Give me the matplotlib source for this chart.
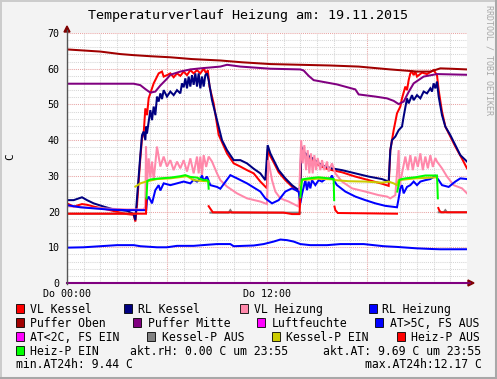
import matplotlib
matplotlib.use('Agg')
import matplotlib.pyplot as plt
from matplotlib.patches import Rectangle, Polygon
from matplotlib.lines import Line2D

nan = float('nan')

# ---------------- data (hours of the day, degrees C) ----------------
t_vl_kessel = [0, 0.4, 0.9, 1.2, 1.6, 2.4, 3.2, 3.6, 4.0, 4.1, 4.2, 4.3, 4.4, 4.5, 4.6, 4.7, 4.8, 4.9, 5.2, 5.5,
               5.7, 5.8, 6.0, 6.2, 6.4, 6.6, 6.8, 7.0, 7.2, 7.4, 7.6, 7.8, 8.0, 8.2, 8.35, 8.45, 8.55, 8.8, 9.1, 9.6,
               10.0, 10.4, 10.8, 11.2, 11.6, 12.0, 12.05, 12.2, 12.4, 12.7, 13.1, 13.5, 13.9, 14.0, 14.05, 14.2, 14.4,
               14.7, 15.1, 15.5, 15.9, 16.5, 17.3, 18.1, 18.9, 19.3, 19.4, 19.6, 19.8, 20.0, 20.1, 20.3, 20.4, 20.5,
               20.6, 20.7, 20.8, 20.9, 21.0, 21.3, 21.6, 22.0, 22.1, 22.2, 22.3, 22.5, 22.7, 23.0, 23.3, 23.7, 24.0]
vl_kessel = [22.3, 21.4, 22.1, 21.9, 21.4, 20.6, 19.7, 19.3, 19.1, 17.2, 21.8, 28.4, 34.9, 40.5, 41.9, 48.9, 47.0, 51.7,
             55.9, 58.7, 59.2, 57.8, 58.2, 58.7, 57.6, 58.7, 58.0, 59.2, 58.2, 59.6, 58.7, 59.6, 58.7, 60.0, 58.7, 59.6,
             55.0, 50.3, 41.5, 36.3, 33.5, 32.6, 31.6, 30.7, 28.4, 26.5, 37.5, 35.5, 33.8, 31.0, 28.8, 27.0, 25.5, 25.0,
             37.5, 36.3, 35.3, 34.5, 33.0, 32.1, 31.6, 31.0, 29.8, 28.8, 27.8, 27.2, 37.2, 42.8, 47.5, 49.4, 51.7, 55.0,
             54.0, 56.8, 58.7, 59.2, 58.2, 59.2, 57.8, 58.9, 58.5, 59.6, 58.9, 58.2, 54.0, 48.0, 43.8, 41.0, 38.2, 34.8,
             32.1]

t_rl_kessel = [0, 0.4, 0.9, 1.2, 1.6, 2.2, 2.8, 3.6, 4.0, 4.1, 4.2, 4.4, 4.5, 4.6, 4.7, 4.75, 4.8, 5.0, 5.1, 5.2, 5.3,
               5.4, 5.5, 5.6, 5.7, 5.8, 6.0, 6.2, 6.4, 6.6, 6.8, 6.9, 7.0, 7.1, 7.2, 7.3, 7.4, 7.5, 7.6, 7.7, 7.8, 7.9,
               8.0, 8.1, 8.2, 8.3, 8.4, 8.5, 8.7, 9.0, 9.3, 9.6, 10.0, 10.4, 10.8, 11.2, 11.6, 11.9, 12.04, 12.2, 12.4,
               12.7, 13.1, 13.5, 13.9, 14.0, 14.05, 14.2, 14.4, 14.7, 15.1, 15.5, 15.9, 16.5, 17.3, 18.1, 18.9, 19.3,
               19.4, 19.5, 19.7, 19.9, 20.1, 20.2, 20.4, 20.5, 20.7, 20.8, 21.0, 21.2, 21.4, 21.6, 21.8, 21.9, 22.0,
               22.1, 22.2, 22.3, 22.5, 22.7, 23.0, 23.3, 23.6, 24.0]
rl_kessel = [23.2, 23.2, 24.0, 23.2, 22.3, 21.4, 20.6, 20.2, 19.3, 17.6, 23.7, 35.8, 41.4, 42.4, 40.0, 43.8, 41.9, 48.4,
             45.6, 49.4, 47.0, 52.2, 50.8, 53.1, 51.5, 54.0, 52.2, 53.6, 52.6, 54.0, 53.1, 55.9, 54.8, 57.3, 54.5, 57.8,
             55.0, 58.2, 55.5, 58.7, 55.0, 58.7, 54.5, 57.8, 55.0, 58.2, 58.7, 56.8, 51.2, 45.6, 40.0, 37.2, 34.4, 34.4,
             33.5, 32.0, 30.7, 28.8, 38.6, 36.3, 34.4, 31.6, 29.3, 27.4, 26.0, 27.0, 38.2, 36.8, 35.8, 35.0, 33.5, 32.6,
             32.1, 31.6, 30.7, 29.8, 29.1, 28.4, 37.2, 40.0, 41.0, 42.8, 43.8, 46.6, 51.7, 50.3, 52.6, 51.2, 52.6, 51.7,
             53.6, 53.1, 54.5, 53.6, 55.9, 54.5, 56.4, 52.2, 47.0, 43.8, 41.4, 38.6, 35.8, 34.0]

t_vl_heizung = [0, 1.6, 3.6, 4.6, 4.7, 4.74, 4.8, 4.9, 5.0, 5.1, 5.2, 5.4, 5.6, 5.8, 6.0, 6.2, 6.4, 6.6, 6.8, 7.0, 7.2,
                7.4, 7.6, 7.8, 7.9, 8.0, 8.1, 8.2, 8.35, 8.5, 8.7, 9.0, 9.2, 9.6, 10.2, 10.8, 11.6, 12.0, 12.08, 12.3,
                12.5, 12.8, 13.3, 13.9, 14.05, 14.14, 14.24, 14.34, 14.44, 14.54, 14.64, 14.74, 14.84, 14.94, 15.04,
                15.2, 15.3, 15.44, 15.6, 15.7, 15.9, 16.1, 16.5, 17.1, 17.9, 18.7, 19.2, 19.4, 19.7, 19.9, 19.95, 20.1,
                20.3, 20.45, 20.6, 20.75, 20.9, 21.05, 21.2, 21.35, 21.5, 21.65, 21.8, 21.95, 22.1, 22.2, 22.5, 22.8,
                23.2, 23.7, 24.0]
vl_heizung = [21.5, 21.0, 20.6, 20.6, 21.4, 38.2, 27.5, 34.9, 29.5, 34.0, 28.8, 38.2, 32.6, 35.4, 32.6, 34.4, 31.6, 34.0,
              32.1, 34.4, 31.2, 34.9, 30.7, 35.4, 30.7, 35.4, 30.2, 35.8, 32.5, 35.4, 34.0, 30.7, 28.8, 27.0, 25.1, 23.7,
              22.8, 22.1, 34.4, 28.8, 25.6, 23.7, 22.8, 21.4, 40.0, 33.5, 38.6, 31.6, 37.2, 30.7, 36.3, 30.7, 35.8, 31.6,
              35.0, 31.6, 34.4, 31.6, 34.0, 31.2, 33.5, 30.7, 28.4, 26.5, 25.6, 24.6, 24.2, 23.7, 24.6, 37.2, 26.9, 30.7,
              35.4, 31.6, 35.8, 31.6, 35.4, 32.5, 36.3, 31.6, 35.4, 32.1, 35.8, 32.5, 35.0, 34.0, 32.1, 29.8, 27.4, 26.5,
              25.1]

t_rl_heizung = [0, 0.8, 1.6, 2.4, 3.6, 4.75, 4.8, 4.9, 5.1, 5.3, 5.5, 5.6, 5.8, 6.2, 6.6, 7.0, 7.4, 7.6, 7.8, 8.0, 8.1,
                8.2, 8.4, 8.6, 9.0, 9.2, 9.8, 10.2, 10.8, 11.6, 11.9, 12.3, 12.7, 13.1, 13.5, 13.9, 14.0, 14.1, 14.3,
                14.4, 14.5, 14.6, 14.7, 14.9, 15.1, 15.3, 15.5, 15.8, 15.9, 16.0, 16.2, 16.7, 17.3, 17.9, 18.5, 19.1,
                19.8, 19.9, 20.0, 20.1, 20.2, 20.4, 20.6, 20.8, 21.0, 21.2, 21.5, 21.8, 22.1, 22.3, 22.5, 22.9, 23.3,
                23.6, 24.0]
rl_heizung = [21.8, 21.2, 20.9, 20.6, 20.4, 20.4, 23.2, 24.2, 22.3, 26.0, 27.4, 25.9, 27.9, 27.4, 27.9, 28.4, 27.9, 28.9,
              28.4, 29.1, 30.1, 28.6, 29.8, 27.4, 26.9, 26.4, 30.2, 29.3, 27.9, 25.6, 23.7, 22.3, 23.2, 25.6, 26.5, 25.6,
              22.3, 24.9, 28.8, 26.0, 28.4, 26.5, 28.8, 27.4, 28.8, 28.4, 29.1, 29.3, 30.1, 28.8, 27.4, 25.6, 24.2, 23.2,
              22.3, 21.6, 21.2, 23.7, 26.5, 27.4, 25.1, 26.9, 27.4, 28.4, 27.4, 28.4, 28.8, 29.1, 30.0, 28.8, 27.4, 26.9,
              28.4, 29.3, 29.1]

t_puffer_oben = [0, 1, 2, 3.2, 4, 5, 6.2, 7.5, 9.2, 10.5, 12.2, 14, 15.8, 17.5, 19.4, 20.5, 21, 21.8, 22.4, 23, 24]
puffer_oben = [65.4, 65.1, 64.8, 64.1, 63.8, 63.5, 63.2, 62.7, 62.3, 61.8, 61.3, 61.1, 60.9, 60.6, 59.8, 59.4, 59.2,
               59.2, 60.1, 60.0, 59.8]

t_puffer_mitte = [0, 4, 4.4, 4.7, 5.0, 5.3, 5.6, 6.0, 6.2, 6.8, 7.4, 8.0, 9.2, 9.6, 10.4, 11.3, 12.2, 14.0, 14.2, 14.5,
                  14.8, 16.2, 17.3, 17.5, 18.5, 19.2, 19.6, 19.9, 20.2, 20.5, 20.8, 21.4, 22.2, 24]
puffer_mitte = [55.8, 55.8, 55.4, 54.3, 53.3, 53.6, 55.3, 57.2, 58.3, 59.2, 59.8, 60.1, 60.6, 61.1, 60.6, 60.3, 60.0,
                59.8, 59.5, 58.0, 56.8, 55.6, 54.2, 52.8, 52.2, 51.7, 51.0, 50.1, 50.8, 53.5, 55.9, 57.8, 58.5, 58.3]

t_luftfeuchte = [0, 24]
luftfeuchte = [0.0, 0.0]

t_aussen = [0, 1, 2, 3, 4, 4.4, 5.4, 6.0, 6.6, 7.6, 8.4, 9.0, 9.8, 10.0, 11.2, 11.8, 12.4, 12.8, 13.2, 13.6, 14.0,
            14.6, 15.6, 16.4, 17.8, 18.4, 19.0, 19.8, 21.0, 22.0, 22.4, 24.0]
aussen = [9.9, 10.0, 10.3, 10.6, 10.6, 10.3, 10.0, 10.0, 10.4, 10.4, 10.7, 10.9, 10.9, 10.3, 10.5, 10.9, 11.6, 12.17,
          12.0, 11.6, 10.9, 10.6, 10.6, 10.9, 10.9, 10.6, 10.3, 10.1, 9.7, 9.5, 9.44, 9.45]

t_kesselp_aus = [0, 4.1, 4.11, 8.6, 9.7, 9.8, 9.9, 14.0, 14.01, 22.3, 22.6, 22.7, 22.8, 24]
kesselp_aus = [19.4, 19.4, nan, 19.7, 19.7, 20.4, 19.7, 19.7, nan, 19.8, 19.8, 20.4, 19.8, 19.8]

t_kesselp_ein = [4.1, 4.4, 4.74, 5.4, 6.2, 7.2, 7.6, 8.0, 8.4, 8.5, 8.51, 14.0, 14.1, 15.0, 16.0, 16.1, 16.9, 17.9,
                 18.9, 19.3, 19.6, 19.8, 19.9, 20.9, 22.2]
kesselp_ein = [27.0, 27.9, 28.4, 29.1, 29.3, 29.9, 28.8, 28.6, 28.5, 28.3, nan, 27.4, 28.8, 29.2, 29.0, 28.8, 28.5, 28.4,
               28.1, 28.4, 27.9, 27.4, 28.8, 29.3, 29.6]

t_heizp_aus = [0, 4.74, 4.76, 4.77, 8.5, 8.6, 8.75, 13.0, 13.5, 13.95, 14.0, 14.01, 16.05, 16.1, 16.25, 19.8, 19.81,
               22.28, 22.35, 22.45, 24]
heizp_aus = [19.4, 19.4, 23.7, nan, 21.5, 20.8, 19.8, 19.7, 19.3, 19.3, 24.0, nan, 21.4, 20.4, 19.6, 19.4, nan, 21.0,
             20.2, 19.8, 19.8]

t_heizp_ein = [4.77, 4.82, 5.0, 5.6, 6.2, 6.8, 7.1, 7.4, 7.8, 8.2, 8.4, 8.47, 8.5, 8.51, 14.0, 14.1, 14.5, 15.1, 15.7,
               16.0, 16.03, 16.04, 19.82, 19.95, 20.0, 20.3, 20.9, 21.5, 22.1, 22.2, 22.25, 22.27]
heizp_ein = [23.7, 28.6, 29.0, 29.3, 29.5, 29.9, 30.2, 29.7, 29.5, 28.8, 28.8, 28.6, 26.4, nan, 24.0, 29.0, 29.3, 29.6,
             29.3, 29.1, 23.2, nan, 25.6, 28.8, 29.0, 29.3, 29.6, 30.1, 30.1, 30.1, 23.7, nan]

x_tick_pos = [0, 12]
x_tick_labels = ['Do 00:00', 'Do 12:00']
y_ticks = [0, 10, 20, 30, 40, 50, 60, 70]

legend_labels = ['VL Kessel', 'RL Kessel', 'VL Heizung', 'RL Heizung', 'Puffer Oben', 'Puffer Mitte',
                 'Luftfeuchte', 'AT>5C, FS AUS', 'AT<2C, FS EIN', 'Kessel-P AUS', 'Kessel-P EIN',
                 'Heiz-P AUS', 'Heiz-P EIN']
legend_colors = ['#FF0000', '#000080', '#FF88AA', '#0000FF', '#A00000', '#800080', '#FF00FF', '#0000FF',
                 '#FF00FF', '#808080', '#CCCC00', '#FF0000', '#00FF00']

# ---------------- layout ----------------
W, H = 497, 379
MONO = 'DejaVu Sans Mono'
fig = plt.figure(figsize=(W / 100, H / 100), dpi=100)
fig.patch.set_facecolor('#F3F3F3')


def fx(x):
    return x / W


def fy(y):
    return 1 - y / H


# frame shading
fig.add_artist(Line2D([fx(0.5), fx(0.5)], [fy(0), fy(379)], color='#CBCBCB', lw=1.4, transform=fig.transFigure))
fig.add_artist(Line2D([fx(0), fx(497)], [fy(0.5), fy(0.5)], color='#CBCBCB', lw=1.4, transform=fig.transFigure))
fig.add_artist(Line2D([fx(495.5), fx(495.5)], [fy(0), fy(379)], color='#A8A8A8', lw=2.2, transform=fig.transFigure))
fig.add_artist(Line2D([fx(0), fx(497)], [fy(377.5), fy(377.5)], color='#A8A8A8', lw=2.2, transform=fig.transFigure))

ax = fig.add_axes([fx(67), fy(283), 400 / W, 250 / H])
ax.set_xlim(0, 24)
ax.set_ylim(0, 70)
ax.set_facecolor('white')
for s in ax.spines.values():
    s.set_visible(False)

# grid
for h in range(1, 24):
    major = (h % 6 == 0)
    ax.axvline(h, color='#E8A4A4' if major else '#D6D6D6', lw=0.75, ls=(0, (1, 1)), zorder=0.5)
for v in range(2, 71, 2):
    major = (v % 10 == 0)
    ax.axhline(v, color='#E8A4A4' if major else '#D6D6D6', lw=0.75, ls=(0, (1, 1)), zorder=0.5)

ax.set_yticks(y_ticks)
ax.set_yticklabels([str(v) for v in y_ticks], fontsize=7.2, family=MONO)
ax.set_xticks(x_tick_pos)
ax.set_xticklabels(x_tick_labels, fontsize=7.2, family=MONO)
ax.tick_params(axis='y', length=0, pad=5.2)
ax.tick_params(axis='x', length=0, pad=4.0)
for lbl in ax.get_yticklabels():
    lbl.set_verticalalignment('baseline')
    lbl.set_y(lbl.get_position()[1])
# move the "0" label a touch up so it clears the time labels (as in the reference)
for lbl, v in zip(ax.get_yticklabels(), y_ticks):
    lbl.set_verticalalignment('center_baseline')

LW = 1.45
series = [
    (t_vl_kessel, vl_kessel, legend_colors[0]),
    (t_rl_kessel, rl_kessel, legend_colors[1]),
    (t_vl_heizung, vl_heizung, legend_colors[2]),
    (t_rl_heizung, rl_heizung, legend_colors[3]),
    (t_puffer_oben, puffer_oben, legend_colors[4]),
    (t_puffer_mitte, puffer_mitte, legend_colors[5]),
    (t_aussen, aussen, legend_colors[7]),
    (t_kesselp_aus, kesselp_aus, legend_colors[9]),
    (t_kesselp_ein, kesselp_ein, legend_colors[10]),
    (t_heizp_aus, heizp_aus, legend_colors[11]),
    (t_heizp_ein, heizp_ein, legend_colors[12]),
]
for i, (t, v, c) in enumerate(series):
    ax.plot(t, v, color=c, lw=LW, zorder=2 + i * 0.1, solid_joinstyle='miter')

# humidity line (zero) on the x axis
ax.plot(t_luftfeuchte, luftfeuchte, color='#800080', lw=1.5, zorder=5, clip_on=False)

# axes lines and arrows
fig.add_artist(Line2D([fx(67), fx(67)], [fy(284), fy(30)], color='#555555', lw=1.0, transform=fig.transFigure))
fig.add_artist(Line2D([fx(466), fx(470)], [fy(283), fy(283)], color='#800080', lw=1.2, transform=fig.transFigure))
fig.add_artist(Polygon([(fx(64), fy(32)), (fx(70), fy(32)), (fx(67), fy(26))], closed=True,
                       color='#7F0000', transform=fig.transFigure))
fig.add_artist(Polygon([(fx(468), fy(280)), (fx(468), fy(286)), (fx(474), fy(283))], closed=True,
                       color='#7F0000', transform=fig.transFigure))

# texts
fig.text(fx(248), fy(18.5), 'Temperaturverlauf Heizung am: 19.11.2015', ha='center', va='baseline',
         fontsize=9.6, family=MONO, color='#000000')
fig.text(fx(10), fy(157), 'C', rotation=90, ha='center', va='center', fontsize=8, family=MONO)
fig.text(fx(489), fy(5), 'RRDTOOL / TOBI OETIKER', rotation=270, ha='center', va='top', fontsize=6,
         family=MONO, color='#A8A8A8')

# legend
rows = [313, 327.3, 341.3, 355.3]
box_x = [[15.5, 123.5, 240, 368.5], [15.5, 133, 257.3, 375], [15.5, 147.3, 272, 396.7], [15.5]]
txt_x = [[30, 138, 254.5, 382.5], [30, 147.7, 271.7, 390], [30, 161.7, 286, 411], [30]]
k = 0
for r, base in enumerate(rows):
    for bx, tx in zip(box_x[r], txt_x[r]):
        fig.add_artist(Rectangle((fx(bx), fy(base)), 8 / W, 9 / H, facecolor=legend_colors[k],
                                 edgecolor='#000000', lw=0.6, transform=fig.transFigure))
        fig.text(fx(tx), fy(base), legend_labels[k], ha='left', va='baseline', fontsize=8.3, family=MONO)
        k += 1

fig.text(fx(129.5), fy(355.3), 'akt.rH: 0.00 C um 23:55', ha='left', va='baseline', fontsize=8.3, family=MONO)
fig.text(fx(481.5), fy(355.3), 'akt.AT: 9.69 C um 23:55', ha='right', va='baseline', fontsize=8.3, family=MONO)
fig.text(fx(16), fy(368.5), 'min.AT24h: 9.44 C', ha='left', va='baseline', fontsize=8.3, family=MONO)
fig.text(fx(481.5), fy(368.5), 'max.AT24h:12.17 C', ha='right', va='baseline', fontsize=8.3, family=MONO)

fig.savefig('out.png', dpi=100, facecolor=fig.get_facecolor())
